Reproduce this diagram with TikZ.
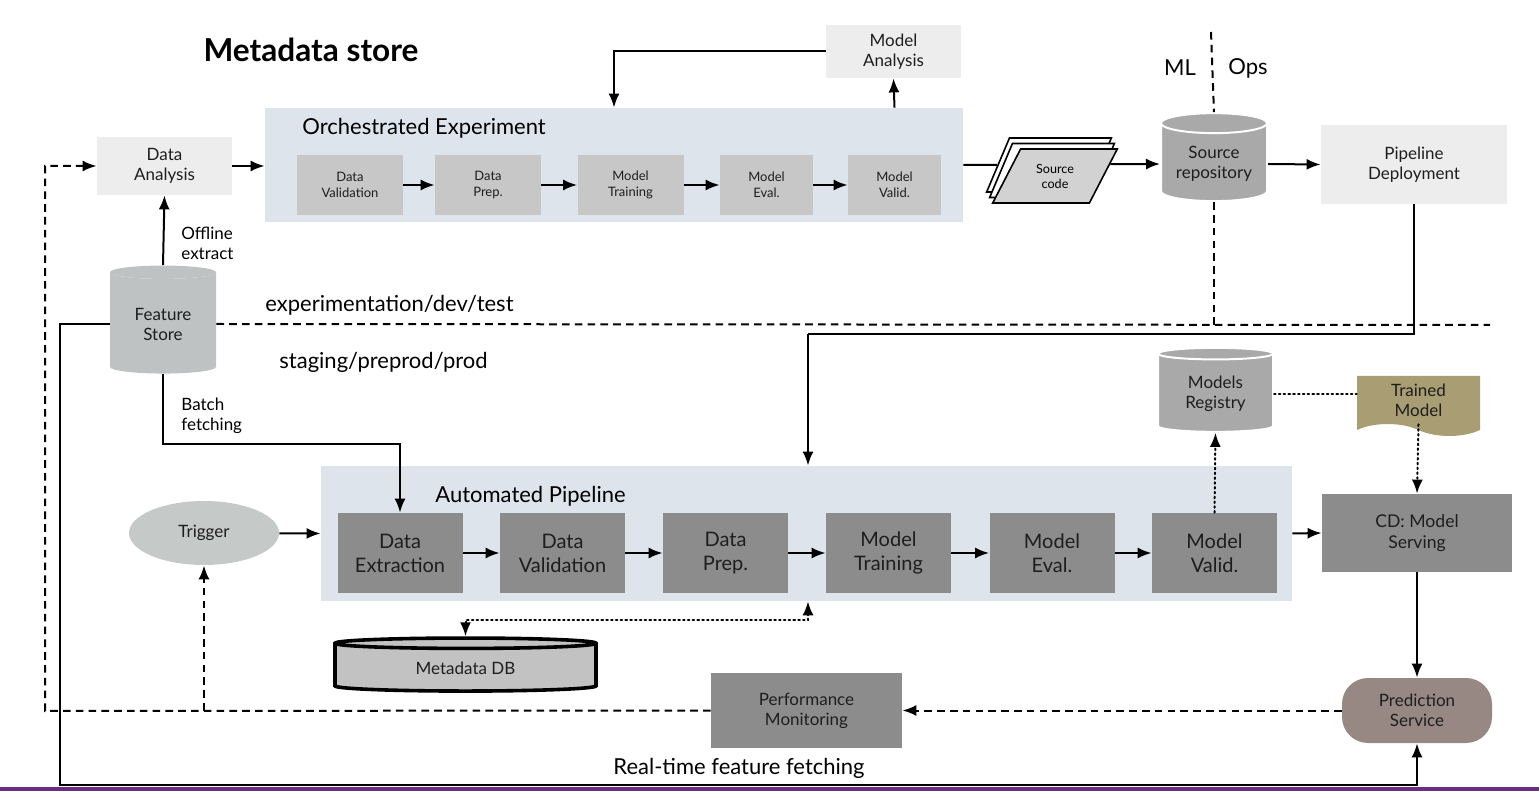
\documentclass[tikz,border=0pt]{standalone}
\usepackage{fontspec}
\setmainfont{Lato}
\usetikzlibrary{shapes.geometric,shapes.symbols,arrows.meta}
\definecolor{panelblue}{HTML}{DDE4EC}
\definecolor{lightbox}{HTML}{EDEDED}
\definecolor{stagegray}{HTML}{C7C7C7}
\definecolor{darkbox}{HTML}{8C8C8C}
\definecolor{cylgray}{HTML}{A9A9A9}
\definecolor{storegray}{HTML}{BEC2C2}
\definecolor{metagray}{HTML}{C2C2C2}
\definecolor{triggergray}{HTML}{C5C9C7}
\definecolor{modelkhaki}{HTML}{A99D73}
\definecolor{predictbrown}{HTML}{978883}
\definecolor{barpurple}{HTML}{6B2D80}
\definecolor{inktext}{HTML}{1E1E1E}
\tikzset{
  panel/.style={rectangle, fill=panelblue, inner sep=0pt},
  softbox/.style={rectangle, fill=lightbox, align=center, text=inktext, font=\fontsize{8.5}{10}\selectfont},
  stagebox/.style={rectangle, fill=stagegray, align=center, text=inktext, minimum width=53pt, minimum height=30pt, inner sep=1pt, font=\fontsize{6.5}{7.8}\selectfont},
  pipebox/.style={rectangle, fill=darkbox, align=center, text=inktext, minimum width=62.5pt, minimum height=40pt, inner sep=1pt, font=\fontsize{10}{12}\selectfont},
  store/.style={cylinder, shape border rotate=90, cylinder uses custom fill, cylinder body fill=#1, cylinder end fill=#1, align=center, text=inktext, inner sep=1pt, font=\fontsize{8.5}{10}\selectfont},
  codesheet/.style={trapezium, trapezium left angle=60, trapezium right angle=120, trapezium stretches=true, draw, line width=0.8pt, minimum width=62.5pt, minimum height=27pt, align=center, inner sep=2pt, font=\fontsize{6.3}{7.5}\selectfont},
  tag/.style={align=left, anchor=west, inner sep=0pt, font=\fontsize{8.5}{10}\selectfont},
  envlabel/.style={anchor=west, inner sep=0pt, font=\fontsize{11}{13}\selectfont},
  flow/.style={line width=1pt, -{Latex[length=7pt,width=5.5pt]}},
  link/.style={line width=1pt},
  fb/.style={line width=1pt, dash pattern=on 3.8pt off 2.6pt},
  meta/.style={line width=1pt, dash pattern=on 0.8pt off 1.6pt, line cap=round},
}
\begin{document}
\begin{tikzpicture}[x=0.5pt, y=-0.5pt]
\useasboundingbox (0,0) rectangle (1539,791);
\fill[barpurple] (0,787) rectangle (1539,791);
\node[font=\fontsize{15.8}{18}\selectfont\bfseries] (Title) at (311,50) {Metadata store};
\node[panel, minimum width=349pt, minimum height=57pt] (Orchestrated) at (614,165) {};
\node[envlabel] (OrchTitle) at (302,128) {Orchestrated Experiment};
\node[stagebox] (ExpValidation) at (350,185) {Data\\Validation};
\node[stagebox] (ExpPrep) at (488,185) {Data\\Prep.};
\node[stagebox] (ExpTraining) at (630.5,185) {Model\\Training};
\node[stagebox, minimum width=46.5pt] (ExpEval) at (766.5,185) {Model\\Eval.};
\node[stagebox, minimum width=46.5pt] (ExpValid) at (894.5,185) {Model\\Valid.};
\node[softbox, minimum width=67.5pt, minimum height=29pt] (DataAnalysis) at (164.5,166) {Data\\Analysis};
\node[softbox, minimum width=67.5pt, minimum height=26.5pt] (ModelAnalysis) at (893.5,51.5) {Model\\Analysis};
\node[softbox, minimum width=93pt, minimum height=39.5pt] (PipelineDeploy) at (1414,164.5) {Pipeline\\Deployment};
\node[codesheet, fill=white] (CodeBack) at (1049,165) {\phantom{code}};
\node[codesheet, fill=white] (CodeMid) at (1052,170.5) {\phantom{code}};
\node[codesheet, fill=stagegray!80] (SourceCode) at (1055,176) {Source\\code};
\node[store=cylgray, draw=white, line width=1pt, minimum width=53pt, minimum height=44pt, aspect=0.25] (SourceRepo) at (1214,164) {Source\\repository};
\node[font=\fontsize{11}{13}\selectfont] (MLside) at (1180,68) {ML};
\node[font=\fontsize{11}{13}\selectfont] (Opsside) at (1248,68) {Ops};
\coordinate (SplitTop) at (1211,32);
\node[store=storegray, minimum width=53pt, minimum height=54pt, aspect=0.22] (FeatureStore) at (163,324) {Feature\\Store};
\node[tag] (OfflineTag) at (181,243) {Offline\\extract};
\node[tag] (BatchTag) at (181,416) {Batch\\fetching};
\node[envlabel] (DevEnv) at (265,305) {experimentation/dev/test};
\node[envlabel] (ProdEnv) at (279,362) {staging/preprod/prod};
\coordinate (EnvEnd) at (1490,325);
\coordinate (DeployDrop) at (808,334);
\node[store=cylgray, draw=white, line width=1pt, minimum width=57.5pt, minimum height=42pt, aspect=0.18] (Registry) at (1215.5,394) {Models\\Registry};
\node[tape, tape bend top=none, tape bend bottom=out and in, tape bend height=6pt, fill=modelkhaki, text=inktext, align=center, minimum width=61.5pt, minimum height=30pt, inner sep=1pt, font=\fontsize{8.5}{10}\selectfont] (TrainedModel) at (1418.5,400) {Trained\\Model};
\node[panel, minimum width=485.5pt, minimum height=67.5pt] (Automated) at (806.5,533.5) {};
\node[envlabel] (AutoTitle) at (435,496) {Automated Pipeline};
\node[pipebox] (PipeExtract) at (400,553) {Data\\Extraction};
\node[pipebox] (PipeValidation) at (562.5,553) {Data\\Validation};
\node[pipebox] (PipePrep) at (725.5,553) {Data\\Prep.};
\node[pipebox] (PipeTraining) at (888.5,553) {Model\\Training};
\node[pipebox] (PipeEval) at (1052,553) {Model\\Eval.};
\node[pipebox] (PipeValid) at (1214.5,553) {Model\\Valid.};
\node[ellipse, fill=triggergray, text=inktext, minimum width=75pt, minimum height=32pt, font=\fontsize{8.5}{10}\selectfont] (Trigger) at (204,533) {Trigger};
\node[rectangle, fill=darkbox, text=inktext, align=center, minimum width=95pt, minimum height=39pt, font=\fontsize{8.8}{10.5}\selectfont] (ModelServing) at (1417,533) {CD: Model\\Serving};
\node[store=metagray, draw=black, line width=1.8pt, minimum width=130.5pt, minimum height=26.5pt, aspect=0.1] (MetadataDB) at (465.5,668.5) {Metadata DB};
\coordinate (MetaBend) at (808,620);
\node[rectangle, fill=darkbox, text=inktext, align=center, minimum width=95.5pt, minimum height=37.5pt, font=\fontsize{8.5}{10}\selectfont] (PerfMonitor) at (806.5,710.5) {Performance\\Monitoring};
\node[rectangle, rounded corners=13pt, fill=predictbrown, text=inktext, align=center, minimum width=75pt, minimum height=32.5pt, font=\fontsize{8.5}{10}\selectfont] (Prediction) at (1417,710.5) {Prediction\\Service};
\node[font=\fontsize{11}{13}\selectfont] (RealTimeTag) at (739,768) {Real-time feature fetching};
\coordinate (FeedbackCorner) at (45,711);
\coordinate (RealTimeCorner) at (60,785);
\draw[flow] (ExpValidation) -- (ExpPrep);
\draw[flow] (ExpPrep) -- (ExpTraining);
\draw[flow] (ExpTraining) -- (ExpEval);
\draw[flow] (ExpEval) -- (ExpValid);
\draw[flow] (DataAnalysis) -- (Orchestrated.west |- DataAnalysis);
\draw[flow] (ModelAnalysis.west) -| (Orchestrated.north);
\draw[flow] (ExpValid |- Orchestrated.north) -- (ModelAnalysis.south);
\draw[link] (Orchestrated.east) -- (CodeBack.west);
\draw[flow] (SourceCode.12) -- (SourceRepo.west);
\draw[flow] (SourceRepo.east) -- (PipelineDeploy.west);
\draw[fb] (SplitTop) -- (SourceRepo.north);
\draw[fb] (SourceRepo.south) -- (SourceRepo.south |- EnvEnd);
\draw[fb] (FeatureStore.east) -- (EnvEnd);
\draw[link, line width=0.8pt] (PipelineDeploy.south) |- (DeployDrop);
\draw[flow] (DeployDrop) -- (DeployDrop |- Automated.north);
\draw[flow] (FeatureStore.north) -- (DataAnalysis.south);
\draw[flow] (FeatureStore.south) -- ++(0,70) -| (PipeExtract.north);
\draw[flow] (Trigger) -- (Automated.west);
\draw[flow] (PipeExtract) -- (PipeValidation);
\draw[flow] (PipeValidation) -- (PipePrep);
\draw[flow] (PipePrep) -- (PipeTraining);
\draw[flow] (PipeTraining) -- (PipeEval);
\draw[flow] (PipeEval) -- (PipeValid);
\draw[flow] (Automated.east) -- (ModelServing.west);
\draw[meta, -{Latex[length=7pt,width=5.5pt]}] (PipeValid.north) -- (Registry.south);
\draw[meta] (Registry.east) -- (Registry.east -| TrainedModel.west);
\draw[meta, -{Latex[length=7pt,width=5.5pt]}] (TrainedModel.south) -- (ModelServing.north);
\draw[flow] (ModelServing.south) -- (Prediction.north);
\draw[meta, {Latex[length=7pt,width=5.5pt]}-{Latex[length=7pt,width=5.5pt]}] (MetadataDB.north) |- (MetaBend) -- (MetaBend |- Automated.south);
\draw[fb, -{Latex[length=7pt,width=5.5pt]}] (Prediction.west) -- (PerfMonitor.east);
\draw[fb, -{Latex[length=7pt,width=5.5pt]}] (PerfMonitor.west) -- (FeedbackCorner) |- (DataAnalysis.west);
\draw[fb, -{Latex[length=7pt,width=5.5pt]}] (Trigger.south |- PerfMonitor.west) -- (Trigger.south);
\draw[flow] (FeatureStore.west) -| (RealTimeCorner) -| (Prediction.south);
\end{tikzpicture}
\end{document}
